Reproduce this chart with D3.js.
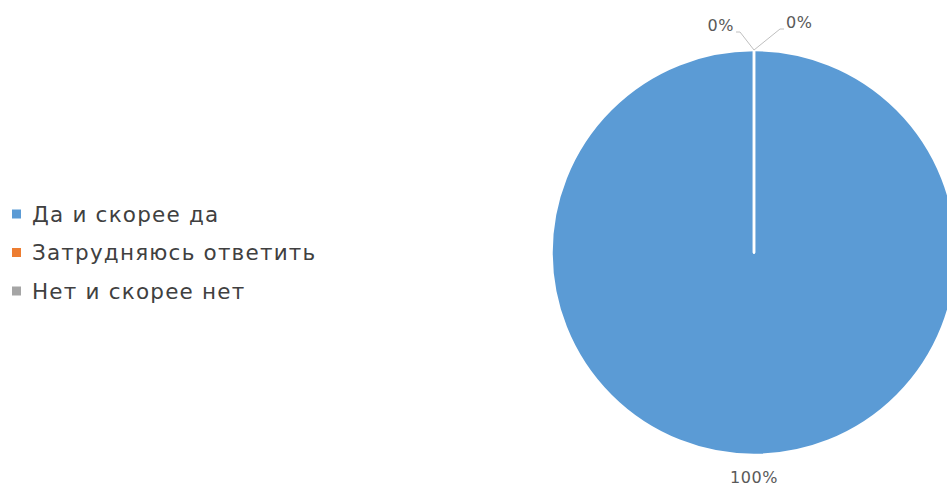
<!DOCTYPE html>
<html>
<head>
<meta charset="utf-8">
<script src="https://cdn.jsdelivr.net/npm/d3@7"></script>
<style>
  body { margin: 0; background: #fff; }
  svg { display: block; }
</style>
</head>
<body>
<div></div>
<script>
// данные диаграммы
var categories = ["Да и скорее да", "Затрудняюсь ответить", "Нет и скорее нет"];
var values = [100, 0, 0];
var labels = ["100%", "0%", "0%"];
var colors = ["#5B9BD5", "#ED7D31", "#A5A5A5"];

const Width = 947, Height = 486;
const cx = 754, cy = 252.5, R = 202.5;

var svg = d3.select("div").append("svg")
    .attr("width", Width).attr("height", Height);

var pie = d3.pie().sort(null).value(d => d);
var arcPath = d3.arc().innerRadius(0).outerRadius(R);
var arcs = pie(values);

var gPie = svg.append("g").attr("transform", "translate(" + cx + "," + cy + ")");

gPie.selectAll("path").data(arcs).enter().append("path")
    .attr("d", arcPath)
    .attr("fill", (d, i) => colors[i])
    .attr("stroke", "#fff")
    .attr("stroke-width", 2.5)
    .attr("stroke-linejoin", "round");

// подписи: большая снизу, нулевые сверху с выносками
const labelFont = "'DejaVu Sans', sans-serif";
arcs.forEach((d, i) => {
    var mid = (d.startAngle + d.endAngle) / 2;
    if (d.value > 0) {
        var r = R + 25;
        gPie.append("text")
            .attr("x", Math.sin(mid) * r)
            .attr("y", -Math.cos(mid) * r + 2.5)
            .attr("text-anchor", "middle")
            .attr("font-family", labelFont)
            .attr("font-size", 16)
            .attr("letter-spacing", 0.6)
            .attr("fill", "#595959")
            .text(labels[i]);
    } else {
        // нулевой сектор у вершины: одна подпись слева, другая справа
        var side = i === 1 ? -1 : 1;
        var px = Math.sin(mid) * R, py = -Math.cos(mid) * R;
        var ex = px + side * (i === 1 ? 14 : 26), ey = py - (i === 1 ? 18 : 21);
        var hx = ex + side * 4;
        gPie.append("polyline")
            .attr("points", [[px, py], [ex, ey], [hx, ey]].map(p => p.join(",")).join(" "))
            .attr("fill", "none")
            .attr("stroke", "#BFBFBF")
            .attr("stroke-width", 1);
        gPie.append("text")
            .attr("x", hx + side * 2)
            .attr("y", ey - 1)
            .attr("text-anchor", side < 0 ? "end" : "start")
            .attr("font-family", labelFont)
            .attr("font-size", 16)
            .attr("letter-spacing", 0.6)
            .attr("fill", "#595959")
            .text(labels[i]);
    }
});

// легенда
var legendY = d3.scalePoint().domain(categories).range([214, 291]);
var gLeg = svg.append("g");
var item = gLeg.selectAll("g").data(categories).enter().append("g")
    .attr("transform", d => "translate(12," + legendY(d) + ")");
item.append("rect")
    .attr("x", 0).attr("y", -4.5).attr("width", 9).attr("height", 9)
    .attr("fill", (d, i) => colors[i]);
item.append("text")
    .attr("x", 20).attr("y", 7.5)
    .attr("font-family", "'DejaVu Sans', sans-serif")
    .attr("font-size", 21.5)
    .attr("letter-spacing", 1.2)
    .attr("fill", "#404040")
    .text(d => d);
</script>
</body>
</html>
